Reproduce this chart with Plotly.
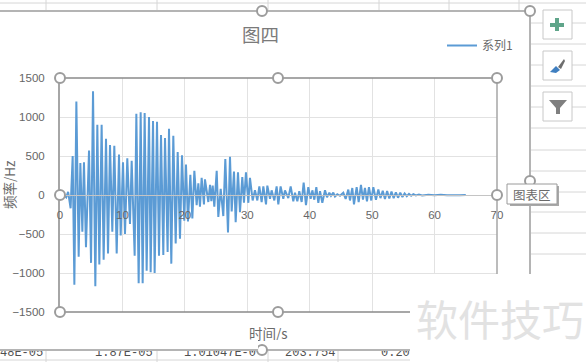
import plotly.graph_objects as go

chart_title = "图四"
series_name = "系列1"
x_title = "时间/s"
y_title = "频率/Hz"
cell_texts = ["48E-05", "1.87E-05", "1.01047E-0", "203.754", "0.20"]

time_s = [0, 0.6, 1.0, 1.3, 1.7, 2.03, 2.30, 2.62, 2.99, 3.26, 3.58, 3.84, 4.16, 4.65, 4.97, 5.29, 5.66, 5.98, 6.30,
          6.67, 6.99, 7.37, 7.69, 8.01, 8.38, 8.70, 9.08, 9.45, 9.72, 10.09, 10.41, 10.78, 11.21, 11.48, 11.96, 12.23,
          12.60, 12.92, 13.24, 13.56, 13.88, 14.26, 14.52, 14.90, 15.16, 15.54, 15.86, 16.18, 16.55, 16.82, 17.24,
          17.46, 17.83, 18.15, 18.53, 18.85, 19.22, 19.54, 19.91, 20.18, 20.50, 20.88, 21.20, 21.52, 21.89, 22.16,
          22.42, 22.69, 23.06, 23.22, 23.76, 24.03, 24.24, 24.46, 24.72, 25.10, 25.36, 25.74, 26.16, 26.48, 26.91,
          27.23, 27.50, 27.87, 28.14, 28.51, 28.83, 29.20, 29.47, 29.79, 30.17, 30.43, 30.86, 31.23, 31.61, 31.93,
          32.30, 32.57, 33.00, 33.21, 33.64, 33.90, 34.33, 34.70, 34.97, 35.34, 35.77, 36.04, 36.57, 36.95, 37.37,
          37.64, 38.02, 38.33, 38.71, 39.03, 39.40, 39.77, 40.15, 40.42, 40.74, 41.06, 41.38, 41.65, 42.02, 42.45,
          42.77, 43.14, 43.41, 43.78, 44.05, 44.42, 44.85, 45.38, 45.76, 46.18, 46.45, 46.82, 47.09, 47.52, 47.84,
          48.21, 48.53, 48.85, 49.17, 49.49, 49.86, 50.19, 50.61, 50.99, 51.33, 51.7, 52.05, 52.4, 52.75, 53.1,
          53.45, 53.8, 54.15, 54.5, 54.85, 55.2, 55.55, 55.9, 56.25, 56.6, 57, 57.5, 58, 59, 60, 61, 62, 63, 64, 65]
freq_hz = [0, 5, -30, 40, -170, 500, -1150, 1200, -790, 410, -470, 420, -670, 570, -870, 1330, -1170, 900, -890,
           900, -830, 720, -750, 640, -470, 630, -750, 520, -520, 420, -500, 470, -370, 440, -780, 1040,
           -1130, 1060, -1130, 1050, -970, 1000, -990, 950, -1000, 940, -780, 770, -770, 730, -730,
           850, -880, 760, -620, 550, -560, 510, -330, 390, -340, 260, -300, 310, -130, 150,
           -150, 220, -120, 200, -90, 130, -80, 120, -150, 310, -280, 80, -270, 460, -480,
           490, -210, 300, -350, 290, -220, 230, -100, 290, -100, 220, -70, 60, -70, 110,
           -90, 110, -120, 120, -50, 60, -70, 110, -120, 110, -50, 60, -40, 110, -80,
           30, -80, 50, -90, 160, -130, 100, -50, 60, -60, 100, -100, 50, -100, 60,
           -30, 30, -10, 30, -20, 10, -10, 30, -50, 70, -70, 90, -120, 100, -90,
           130, -60, 90, -80, 100, -70, 100, -60, 70, -40, 55, -50, 50, -45, 45,
           -40, 35, -35, 30, -25, 20, -15, 15, -10, 10, -6, 6, -5, 4, -3, 3, -3, 2, -2, 0]

L, R, T, B = 60, 497, 78, 312
PW, PH = R - L, B - T
def X(p): return (p - L) / PW
def Y(p): return (B - p) / PH

shapes, ann = [], []
def line(x0, y0, x1, y1, color, width=1, layer="above"):
    shapes.append(dict(type="line", xref="paper", yref="paper", x0=X(x0), x1=X(x1), y0=Y(y0), y1=Y(y1),
                       line=dict(color=color, width=width), layer=layer))
def rect(x0, y0, x1, y1, fill, color=None, width=1, layer="above"):
    shapes.append(dict(type="rect", xref="paper", yref="paper", x0=X(x0), x1=X(x1), y0=Y(y0), y1=Y(y1),
                       fillcolor=fill, line=dict(color=color or "rgba(0,0,0,0)", width=width if color else 0), layer=layer))
def handle(x, y, r=5):
    shapes.append(dict(type="circle", xref="paper", yref="paper", x0=X(x - r), x1=X(x + r), y0=Y(y + r), y1=Y(y - r),
                       fillcolor="white", line=dict(color="#9c9c9c", width=2), layer="above"))
def path(d, fill):
    parts = []
    for cmd in d:
        if cmd == "Z":
            parts.append("Z")
        else:
            parts.append(f"{cmd[0]}{X(cmd[1]):.5f},{Y(cmd[2]):.5f}")
    shapes.append(dict(type="path", xref="paper", yref="paper", path=" ".join(parts), fillcolor=fill,
                       line=dict(width=0), layer="above"))
def text(s, x, y, size, color="#6a6a6a", font="Noto Sans CJK SC", xa="center", angle=0, ya="middle"):
    ann.append(dict(text=s, xref="paper", yref="paper", x=X(x), y=Y(y), xanchor=xa, yanchor=ya, showarrow=False,
                    textangle=angle, font=dict(family=font, size=size, color=color), borderpad=0, borderwidth=0))
def mask(x0, y0, x1, y1, color="white"):
    ann.append(dict(text=" ", xref="paper", yref="paper", x=X(x0), y=Y(y0), xanchor="left", yanchor="top",
                    width=x1 - x0, height=y1 - y0, showarrow=False, bgcolor=color, borderpad=0, borderwidth=0))

# spreadsheet behind the chart
GRID = "#d6d6d6"
line(0, 3, 586, 3, GRID, layer="below")
for vx in (46, 157, 268, 379, 449, 519):
    line(vx, 0, vx, 11, GRID, layer="below")
for hy in (23, 44, 65, 86, 107, 128, 150, 171, 192, 212, 233, 254):
    line(530, hy, 586, hy, GRID, layer="below")
line(0, 360, 410, 360, GRID, layer="below")
for vx in (46, 157, 268, 338):
    line(vx, 350, vx, 362, GRID, layer="below")

# chart area
rect(-2, 11, 530, 350, "white", layer="below")

# white patch behind the watermark
rect(410, 274, 586, 362, "white")
# plot / chart selection frames
line(L, T, R, T, "#8a8a8a", 1.5)
line(R, T, R, 274, "#a6a6a6", 1.5)
line(L, B, 410, B, "#8a8a8a", 1.5)
line(0, 11, 530, 11, "#b4b4b4", 2)
line(530, 11, 530, 274, "#b4b4b4", 2)
line(0, 350, 410, 350, "#b4b4b4", 2)

for hx, hy in [(L, T), (278, T), (R, T), (L, 195), (R, 195), (L, B), (278, B), (262, 11), (530, 11), (530, 181), (262, 350)]:
    handle(hx, hy)

# side buttons
for y0 in (10, 51, 92):
    rect(543, y0, 572, y0 + 29, "white", "#c8c8c8")
path([("M", 555, 18), ("L", 559, 18), ("L", 559, 23), ("L", 564, 23), ("L", 564, 27), ("L", 559, 27), ("L", 559, 31),
      ("L", 555, 31), ("L", 555, 27), ("L", 550, 27), ("L", 550, 23), ("L", 555, 23), "Z"], "#5fa58a")
path([("M", 558, 67), ("L", 564, 59), ("L", 565, 61), ("L", 561, 69), "Z"], "#6e6e6e")
path([("M", 550, 72), ("L", 556, 66), ("L", 560, 70), ("L", 556, 73), "Z"], "#3f7fc0")
path([("M", 549, 100), ("L", 567, 100), ("L", 560, 108), ("L", 560, 114), ("L", 556, 114), ("L", 556, 108), "Z"], "#7f7f7f")

# tooltip
rect(510, 186, 559, 206, "#a8a8a8")
rect(507, 184, 557, 204, "white", "#9a9a9a")

# text
text(chart_title, 260, 34, 18.5, color="#7a7a7a")
text(x_title, 268, 333, 13.5)
text(y_title, 9, 185, 13.5, angle=-90)
text("图表区", 532, 194, 12.5)
text("软件技巧", 500, 317, 42, color="#e2e2e2")
mono = "Liberation Mono"
for s, right in zip(cell_texts, (43, 153, 256, 335, 410)):
    text(s, right, 353, 12, color="#505050", font=mono, xa="right")
mask(0, 340, 258, 349)
mask(268, 340, 410, 349)
mask(0, 349, 258, 351, "#b4b4b4")
mask(268, 349, 410, 351, "#b4b4b4")

fig = go.Figure(go.Scatter(x=time_s, y=freq_hz, mode="lines", name=series_name,
                           line=dict(color="#5B9BD5", width=2.0), showlegend=True))
axis_font = dict(family="Liberation Sans", size=11.5, color="#666666")
fig.update_layout(
    width=586, height=362, autosize=False,
    margin=dict(l=L, r=586 - R, t=T, b=362 - B, pad=0),
    paper_bgcolor="white", plot_bgcolor="rgba(0,0,0,0)",
    shapes=shapes, annotations=ann,
    legend=dict(x=X(442), y=Y(31), xanchor="left", yanchor="top", bgcolor="rgba(0,0,0,0)", itemwidth=30,
                font=dict(family="Noto Sans CJK SC", size=12, color="#6a6a6a")),
    xaxis=dict(range=[0, 70], tick0=0, dtick=10, anchor="free", position=0.5, showgrid=True, gridcolor="#e2e2e2",
               showline=True, linecolor="#c4c4c4", linewidth=1, zeroline=False, ticks="", tickfont=axis_font,
               ticklabelstandoff=9, fixedrange=True),
    yaxis=dict(range=[-1500, 1500], tick0=-1500, dtick=500, showgrid=True, gridcolor="#e2e2e2", zeroline=False,
               showline=True, linecolor="#a6a6a6", linewidth=2, ticks="", tickfont=axis_font,
               ticklabelstandoff=11, fixedrange=True),
)
fig.write_html("out.html", config=dict(displayModeBar=False), post_script="document.body.style.margin='0';")
